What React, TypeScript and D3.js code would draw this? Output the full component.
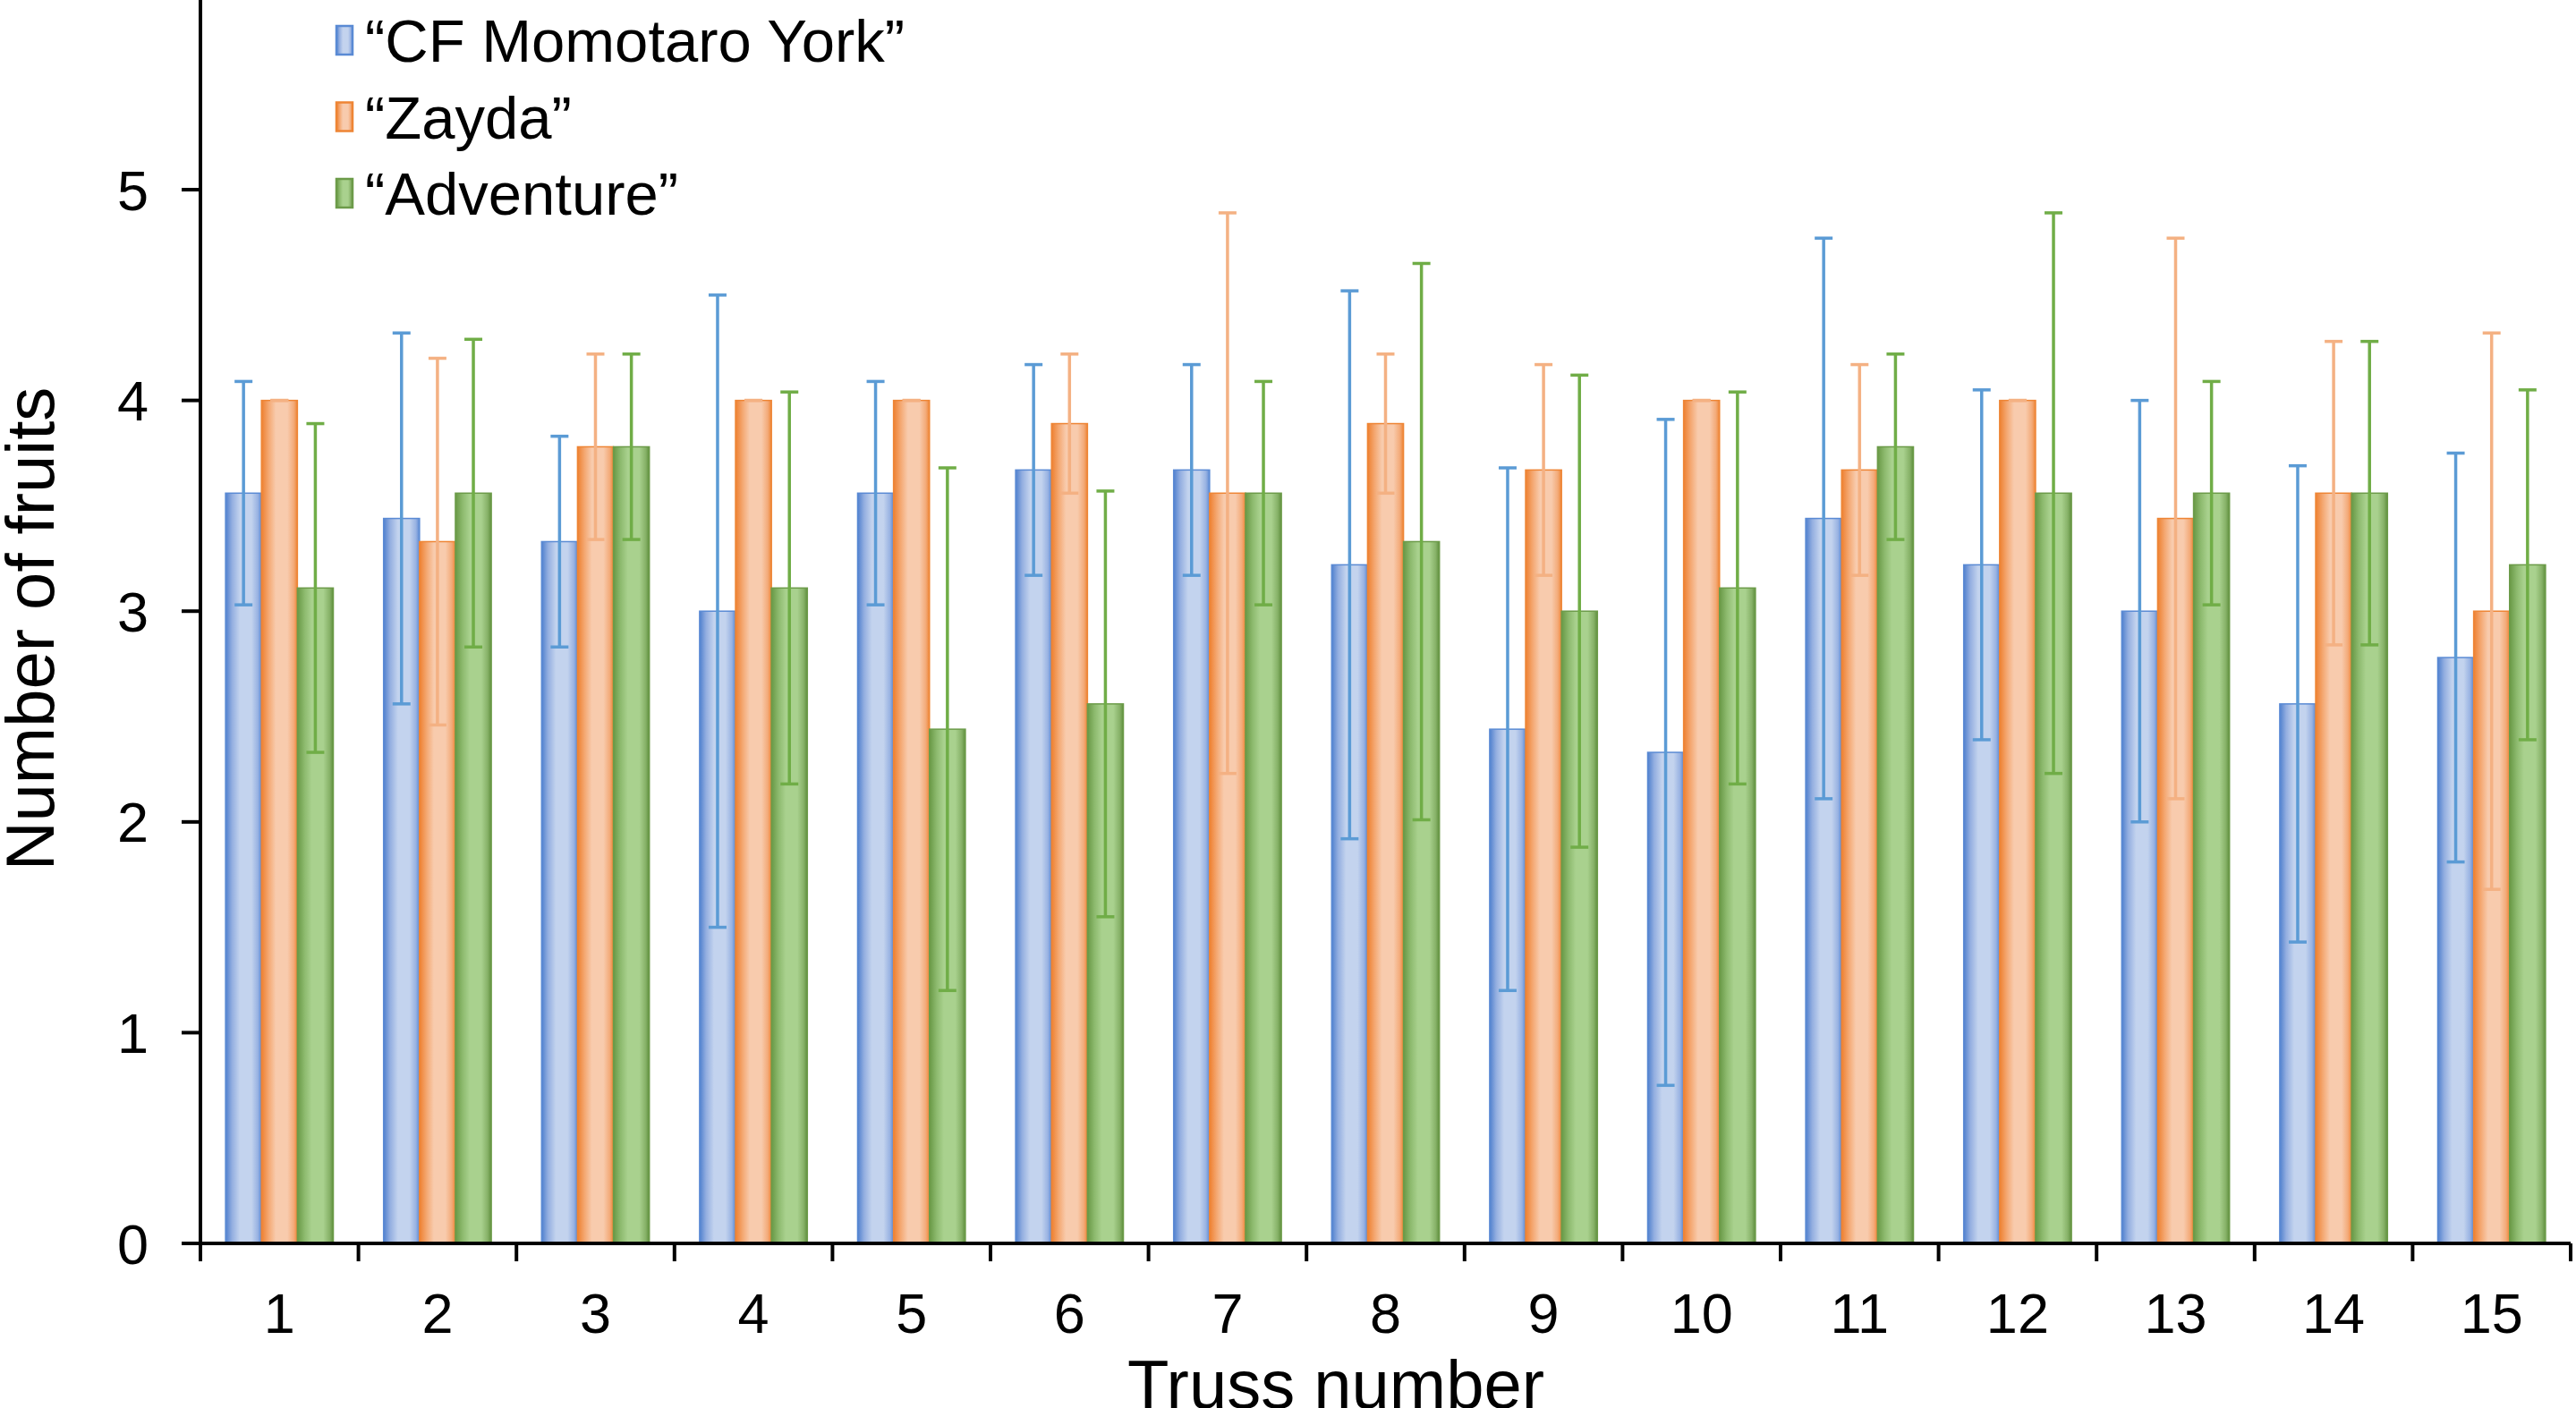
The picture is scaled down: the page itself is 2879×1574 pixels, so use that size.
import * as d3 from 'd3';

const categories = ['1', '2', '3', '4', '5', '6', '7', '8', '9', '10', '11', '12', '13', '14', '15'];
const seriesNames = ['“CF Momotaro York”', '“Zayda”', '“Adventure”'];

const momotaroMean = [3.56, 3.44, 3.33, 3.0, 3.56, 3.67, 3.67, 3.22, 2.44, 2.33, 3.44, 3.22, 3.0, 2.56, 2.78];
const momotaroSd = [0.53, 0.88, 0.5, 1.5, 0.53, 0.5, 0.5, 1.3, 1.24, 1.58, 1.33, 0.83, 1.0, 1.13, 0.97];
const zaydaMean = [4.0, 3.33, 3.78, 4.0, 4.0, 3.89, 3.56, 3.89, 3.67, 4.0, 3.67, 4.0, 3.44, 3.56, 3.0];
const zaydaSd = [0, 0.87, 0.44, 0, 0, 0.33, 1.33, 0.33, 0.5, 0, 0.5, 0, 1.33, 0.72, 1.32];
const adventureMean = [3.11, 3.56, 3.78, 3.11, 2.44, 2.56, 3.56, 3.33, 3.0, 3.11, 3.78, 3.56, 3.56, 3.56, 3.22];
const adventureSd = [0.78, 0.73, 0.44, 0.93, 1.24, 1.01, 0.53, 1.32, 1.12, 0.93, 0.44, 1.33, 0.53, 0.72, 0.83];

const yTicks = [0, 1, 2, 3, 4, 5];

const W = 2879;
const H = 1574;
const FONT = '"Liberation Sans", Arial, Helvetica, sans-serif';

// visual style per series (gradient stops, outline, error bar colour)
const styles = [
  {
    id: 'gBlue',
    stops: [['0', '#4F80CE'], ['0.18', '#93AEE0'], ['0.4', '#C3D3EE'], ['0.72', '#C3D3EE'], ['0.9', '#98B2E2'], ['1', '#5B89D3']],
    stroke: '#5A8AD4',
    err: '#5B9BD5',
  },
  {
    id: 'gOrange',
    stops: [['0', '#EE8030'], ['0.2', '#F4A872'], ['0.4', '#F8CBAD'], ['0.72', '#F8CBAD'], ['0.9', '#F3AA78'], ['1', '#EE8535']],
    stroke: '#EE8535',
    err: '#F4B183',
  },
  {
    id: 'gGreen',
    stops: [['0', '#689845'], ['0.2', '#8DBA6E'], ['0.4', '#A9D18E'], ['0.72', '#A9D18E'], ['0.9', '#86B167'], ['1', '#5E8E3D']],
    stroke: '#6C9B49',
    err: '#70AD47',
  },
];

const means = [momotaroMean, zaydaMean, adventureMean];
const sds = [momotaroSd, zaydaSd, adventureSd];

export default function App() {
  const x = d3.scaleBand<string>().domain(categories).range([224, 2873]).padding(0);
  const xSub = d3
    .scaleBand<number>()
    .domain([0, 1, 2])
    .range([0, x.bandwidth()])
    .paddingInner(0)
    .paddingOuter(0.7);
  const y = d3.scaleLinear().domain([0, 5.9]).range([1390, 0]);
  const bw = xSub.bandwidth();
  const capW = 20;

  const bars = means.flatMap((vals, s) =>
    vals.map((v, i) => ({ s, i, v, sd: sds[s][i], x0: (x(categories[i]) ?? 0) + (xSub(s) ?? 0) })),
  );

  const boundaries = d3.range(categories.length + 1).map((k) => 224 + k * x.step());

  return (
    <svg
      width={W}
      height={H}
      viewBox={`0 0 ${W} ${H}`}
      style={{ position: 'absolute', left: 0, top: 0, background: '#fff' }}
      fontFamily={FONT}
    >
      <defs>
        {styles.map((st) => (
          <linearGradient key={st.id} id={st.id} x1="0" x2="1" y1="0" y2="0">
            {st.stops.map(([o, c]) => (
              <stop key={o} offset={o} stopColor={c} />
            ))}
          </linearGradient>
        ))}
      </defs>
      <rect width={W} height={H} fill="#fff" />

      {/* bars */}
      {bars.map((b) => (
        <rect
          key={`b${b.s}-${b.i}`}
          x={b.x0}
          y={y(b.v)}
          width={bw}
          height={y(0) - y(b.v)}
          fill={`url(#${styles[b.s].id})`}
          stroke={styles[b.s].stroke}
          strokeWidth={1.5}
        />
      ))}

      {/* error bars */}
      {bars.map((b) => {
        const cx = b.x0 + bw / 2;
        const top = y(b.v + b.sd);
        const bot = y(b.v - b.sd);
        const c = styles[b.s].err;
        return (
          <g key={`e${b.s}-${b.i}`} stroke={c} strokeWidth={3.5}>
            <line x1={cx} x2={cx} y1={top} y2={bot} />
            <line x1={cx - capW / 2} x2={cx + capW / 2} y1={top} y2={top} />
            <line x1={cx - capW / 2} x2={cx + capW / 2} y1={bot} y2={bot} />
          </g>
        );
      })}

      {/* y axis */}
      <line x1={224} x2={224} y1={y(5.9)} y2={y(0)} stroke="#000" strokeWidth={4} />
      {yTicks.map((t) => (
        <g key={`yt${t}`}>
          <line x1={203} x2={224} y1={y(t)} y2={y(t)} stroke="#000" strokeWidth={4} />
          <text x={166} y={y(t)} dy="0.36em" textAnchor="end" fontSize={63}>
            {t}
          </text>
        </g>
      ))}

      {/* x axis */}
      <line x1={222} x2={2873} y1={y(0)} y2={y(0)} stroke="#000" strokeWidth={4} />
      {boundaries.map((bx, k) => (
        <line key={`xt${k}`} x1={bx} x2={bx} y1={y(0)} y2={y(0) + 20} stroke="#000" strokeWidth={4} />
      ))}
      {categories.map((c) => (
        <text key={`xl${c}`} x={(x(c) ?? 0) + x.bandwidth() / 2} y={1490} textAnchor="middle" fontSize={63}>
          {c}
        </text>
      ))}

      {/* axis titles */}
      <text x={1493} y={1574} textAnchor="middle" fontSize={76}>
        Truss number
      </text>
      <text transform="translate(60,703) rotate(-90)" textAnchor="middle" fontSize={76}>
        Number of fruits
      </text>

      {/* legend */}
      {seriesNames.map((name, s) => {
        const cy = 45 + s * 85.5;
        return (
          <g key={`lg${s}`}>
            <rect
              x={376}
              y={cy - 16}
              width={18}
              height={32}
              fill={`url(#${styles[s].id})`}
              stroke={styles[s].stroke}
              strokeWidth={2.5}
            />
            <text x={408} y={cy} dy="0.36em" fontSize={67}>
              {name}
            </text>
          </g>
        );
      })}
    </svg>
  );
}
